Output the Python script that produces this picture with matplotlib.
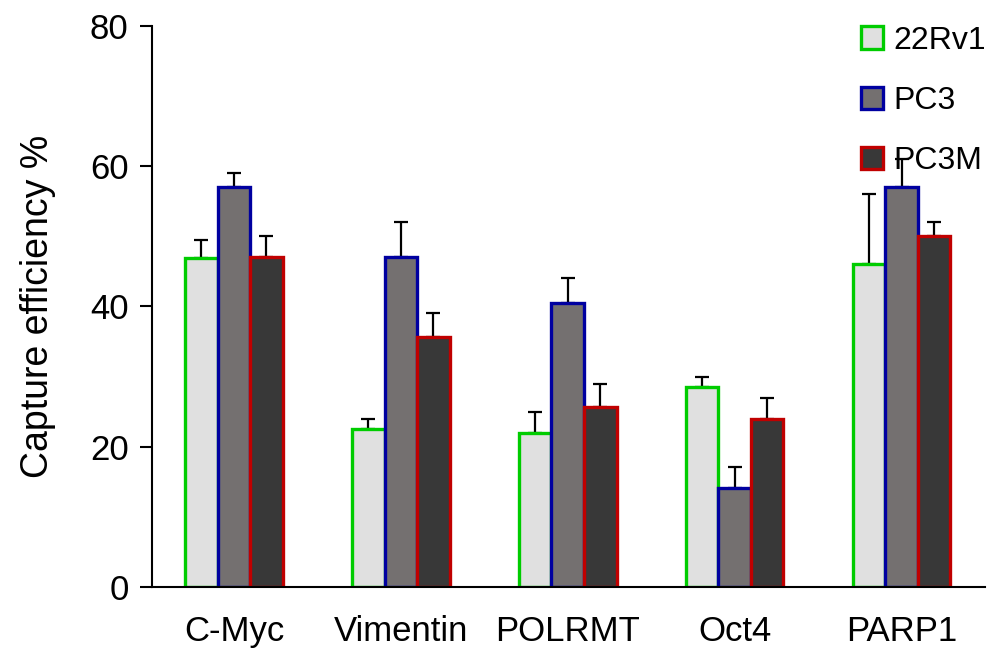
import numpy as np
import matplotlib.pyplot as plt

genes = ['C-Myc', 'Vimentin', 'POLRMT', 'Oct4', 'PARP1']
lines = ['22Rv1', 'PC3', 'PC3M']
val_22rv1 = [46.9, 22.5, 22.0, 28.5, 46.0]
val_pc3 = [57.0, 47.0, 40.5, 14.1, 57.0]
val_pc3m = [47.0, 35.6, 25.6, 24.0, 50.0]
err_22rv1 = [2.6, 1.5, 3.0, 1.5, 10.0]
err_pc3 = [2.0, 5.0, 3.5, 3.0, 4.0]
err_pc3m = [3.0, 3.4, 3.4, 3.0, 2.0]

fills = ['#e0e0e0', '#747070', '#383838']
edges = ['#00cc00', '#0000a0', '#c00000']

plt.rcParams['font.family'] = ['Liberation Sans', 'DejaVu Sans']

fig = plt.figure(figsize=(9.88, 6.5), dpi=100)
ax = fig.add_axes([0.154, 0.097, 0.843, 0.863])

x = np.arange(len(genes))
w = 0.195
series = [val_22rv1, val_pc3, val_pc3m]
errs = [err_22rv1, err_pc3, err_pc3m]
for i in range(3):
    pos = x + (i - 1) * w
    ax.bar(pos, series[i], width=w, color=fills[i], edgecolor=edges[i],
           linewidth=2.4, label=lines[i], zorder=2)
    # upward-only error bars, drawn under the bars so the lower cap hides
    ax.errorbar(pos, series[i], yerr=[np.zeros(len(genes)), errs[i]], fmt='none',
                ecolor='black', elinewidth=1.6, capsize=5, capthick=1.6, zorder=1.5)

ax.set_ylim(0, 80)
ax.set_xlim(-0.49, 4.5)
ax.set_yticks([0, 20, 40, 60, 80])
ax.set_xticks(x)
ax.set_xticklabels(genes)
ax.tick_params(axis='y', labelsize=25, length=9, width=1.5, direction='out', pad=8)
ax.tick_params(axis='x', labelsize=25, length=0, pad=20)
ax.set_ylabel('Capture efficiency %', fontsize=27, labelpad=24)
for s in ['top', 'right']:
    ax.spines[s].set_visible(False)
ax.spines['left'].set_linewidth(1.5)
ax.spines['bottom'].set_linewidth(1.5)

ax.legend(loc='upper left', bbox_to_anchor=(0.852, 0.99), bbox_transform=fig.transFigure,
          frameon=False, fontsize=23, handlelength=0.7, handleheight=0.7,
          handletextpad=0.3, labelspacing=0.95, borderaxespad=0.2)

fig.savefig('out.png', dpi=100)
